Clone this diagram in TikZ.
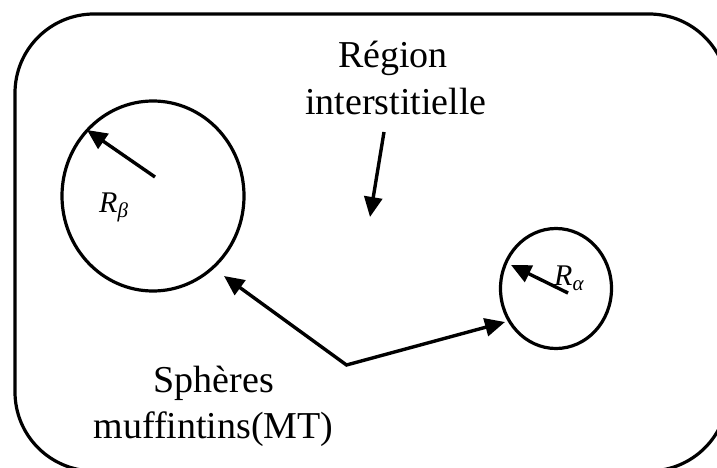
\documentclass[tikz,border=0pt]{standalone}
\usepackage{fontspec}
\setmainfont{Liberation Serif}
\usetikzlibrary{arrows.meta,shapes.geometric}
\newcommand{\radlbl}[1]{{\itshape R}{\fontsize{21}{22}\selectfont\itshape\raisebox{-5pt}{#1}}}
\begin{document}
\begin{tikzpicture}[x=1pt,y=-1pt,
  ln/.style={line width=3.2pt},
  arr/.style={line width=3.4pt,-{Triangle[length=20pt,width=18pt]}},
  sph/.style={draw,ellipse,line width=3.2pt,inner sep=0pt},
  lbl/.style={font=\fontsize{38}{44}\selectfont,inner sep=0pt,anchor=base},
  mlbl/.style={font=\fontsize{30}{32}\selectfont,inner sep=0pt,anchor=base west}]
\useasboundingbox (0,0) rectangle (717,468);
\clip (0,0) rectangle (717,468);
\fill[white] (0,0) rectangle (717,468);
% interstitial region
\draw[ln,rounded corners=79pt] (15,14) rectangle (728,471);
% spheres
\node[sph,minimum width=182pt,minimum height=190pt] (big) at (153,196) {};
\node[sph,minimum width=111pt,minimum height=120pt] (small) at (556,288.5) {};
% radius arrows
\coordinate (bt) at (155,177);
\coordinate (bh) at (87,130);
\coordinate (st) at (568,293);
\coordinate (sh) at (511,265);
\draw[arr] (bt) -- (bh);
\draw[arr] (st) -- (sh);
% labels
\node[mlbl] (rb) at (99,212) {\radlbl{β}};
\node[mlbl] (ra) at (554,285) {\radlbl{α}};
\node[lbl] (reg1) at (393,68) {Région};
\node[lbl] (reg2) at (396,115) {interstitielle};
\node[lbl] (sp1) at (214,392) {Sphères};
\node[lbl] (sp2) at (213.5,438) {muffintins(MT)};
% pointer arrows
\coordinate (it) at (384,132);
\coordinate (ih) at (370,217);
\draw[arr] (it) -- (ih);
\coordinate (v) at (346.5,365);
\coordinate (m1) at (224,276);
\coordinate (m2) at (505,322);
\draw[line width=3.4pt,line join=miter,{Triangle[length=20pt,width=18pt]}-{Triangle[length=20pt,width=18pt]}] (m1) -- (v) -- (m2);
\end{tikzpicture}
\end{document}
